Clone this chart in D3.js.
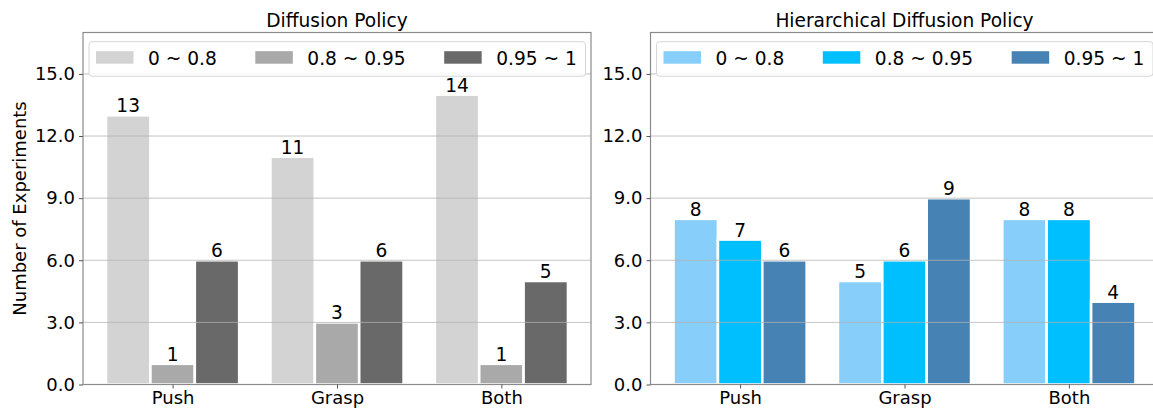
<!DOCTYPE html>
<html>
<head>
<meta charset="utf-8">
<script src="https://cdn.jsdelivr.net/npm/d3@7"></script>
<style>
  html, body { margin: 0; padding: 0; background: #fff; }
  svg { display: block; font-family: "DejaVu Sans", sans-serif; }
</style>
</head>
<body>
<div id="chart"></div>
<script>
// ── data ─────────────────────────────────────────────
const categories = ["Push", "Grasp", "Both"];
const ranges = ["0 ~ 0.8", "0.8 ~ 0.95", "0.95 ~ 1"];
const yTicks = [0, 3, 6, 9, 12, 15];

// one array per success-rate range, values per category
const dpCounts  = [[13, 11, 14], [1, 3, 1], [6, 6, 5]];
const hdpCounts = [[8, 5, 8], [7, 6, 8], [6, 9, 4]];

const greyColors = ["#d3d3d3", "#a9a9a9", "#696969"];
const blueColors = ["#87cefa", "#00bfff", "#4682b4"];

// ── layout ───────────────────────────────────────────
const W = 1153, H = 408;
const FS = 18.6;      // titles, legend, value labels
const TFS = 18;       // tick labels
const plotTop = 32.5, plotBottom = 384.5;
const barW = 0.27;

const svg = d3.select("#chart").append("svg")
    .attr("width", W).attr("height", H);

const y = d3.scaleLinear().domain([0, 17]).range([plotBottom, plotTop]);

function panel(title, counts, colors, x0, x1, showYLabel) {
    const x = d3.scaleLinear().domain([-0.545, 2.545]).range([x0, x1]);
    const g = svg.append("g");

    // bars
    counts.forEach((series, s) => {
        const off = (s - 1) * barW;
        g.append("g").selectAll("rect").data(series).join("rect")
            .attr("x", (d, i) => x(i + off - barW / 2))
            .attr("width", x(barW) - x(0))
            .attr("y", d => y(d))
            .attr("height", d => y(0) - y(d))
            .attr("fill", colors[s])
            .attr("stroke", "#fff").attr("stroke-width", 2.6);
    });

    // gridlines (drawn over the bars, like the original)
    g.append("g").selectAll("line").data(yTicks).join("line")
        .attr("x1", x0).attr("x2", x1)
        .attr("y1", d => y(d)).attr("y2", d => y(d))
        .attr("stroke", "#b0b0b0").attr("stroke-opacity", 0.75).attr("stroke-width", 1);

    // value labels
    counts.forEach((series, s) => {
        const off = (s - 1) * barW;
        g.append("g").selectAll("text").data(series).join("text")
            .attr("x", (d, i) => x(i + off))
            .attr("y", d => y(d) - 3)
            .attr("text-anchor", "middle")
            .style("font-size", FS + "px").style("fill", "#000")
            .text(d => d);
    });

    // frame
    g.append("rect")
        .attr("x", x0).attr("y", plotTop)
        .attr("width", x1 - x0).attr("height", plotBottom - plotTop)
        .attr("fill", "none").attr("stroke", "#8a8a8a").attr("stroke-width", 1.2);

    // y axis
    const ya = g.append("g").attr("transform", `translate(${x0},0)`)
        .call(d3.axisLeft(y).tickValues(yTicks).tickFormat(d3.format(".1f"))
            .tickSize(4).tickPadding(4));
    ya.select(".domain").remove();
    ya.selectAll("line").attr("stroke", "#555");
    ya.selectAll("text").style("font-size", TFS + "px")
        .style("font-family", "DejaVu Sans").attr("fill", "#000");

    // x axis
    const xa = g.append("g").attr("transform", `translate(0,${plotBottom})`)
        .call(d3.axisBottom(x).tickValues([0, 1, 2]).tickFormat(i => categories[i])
            .tickSize(4).tickPadding(3));
    xa.select(".domain").remove();
    xa.selectAll("line").attr("stroke", "#555");
    xa.selectAll("text").style("font-size", TFS + "px")
        .style("font-family", "DejaVu Sans").attr("fill", "#000");

    // title
    g.append("text")
        .attr("x", (x0 + x1) / 2).attr("y", 27)
        .attr("text-anchor", "middle").style("font-size", FS + "px")
        .text(title);

    if (showYLabel) {
        g.append("text")
            .attr("transform", "rotate(-90)")
            .attr("x", -(plotTop + plotBottom) / 2).attr("y", 26)
            .attr("text-anchor", "middle").style("font-size", TFS + "px")
            .text("Number of Experiments");
    }

    // legend
    const lx = x0 + 6, lw = (x1 - x0) - 11.5;
    const lg = g.append("g").attr("transform", `translate(${lx},41.7)`);
    lg.append("rect")
        .attr("width", lw).attr("height", 34.5).attr("rx", 3)
        .attr("fill", "#fff").attr("fill-opacity", 0.85)
        .attr("stroke", "#d6d6d6").attr("stroke-width", 1);
    let cx = 7;
    ranges.forEach((r, s) => {
        lg.append("rect")
            .attr("x", cx).attr("y", 9.5)
            .attr("width", 37.5).attr("height", 12.5)
            .attr("fill", colors[s]);
        const t = lg.append("text")
            .attr("x", cx + 52).attr("y", 23.5)
            .style("font-size", FS + "px").text(r);
        cx += 52 + t.node().getComputedTextLength() + 38.5;
    });
}

panel("Diffusion Policy", dpCounts, greyColors, 83, 591, true);
panel("Hierarchical Diffusion Policy", hdpCounts, blueColors, 650.5, 1158.5, false);
</script>
</body>
</html>
